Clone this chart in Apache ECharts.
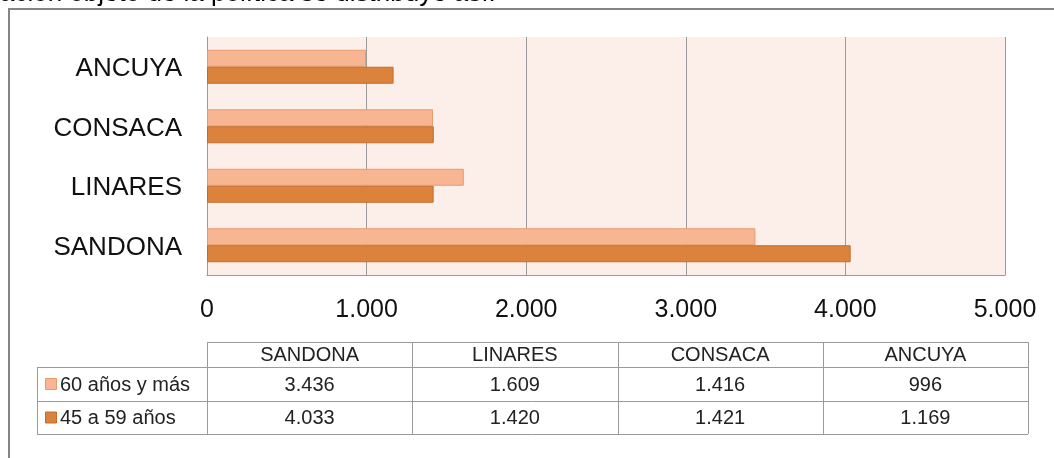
<!DOCTYPE html>
<html>
<head>
<meta charset="utf-8">
<script src="https://cdn.jsdelivr.net/npm/echarts@6/dist/echarts.min.js"></script>
<style>
    html, body { margin: 0; padding: 0; background: #fff; }
    #chart { width: 1054px; height: 458px; }
</style>
</head>
<body>
<div id="chart"></div>
<script>
// datos
const municipios = ['SANDONA', 'LINARES', 'CONSACA', 'ANCUYA'];
const mayores60 = [3436, 1609, 1416, 996];
const de45a59 = [4033, 1420, 1421, 1169];
const serieNombres = ['60 años y más', '45 a 59 años'];
const xTicks = [0, 1000, 2000, 3000, 4000, 5000];

const colores = ['#F8B592', '#DB823D'];
const bordes = ['#E49C6C', '#C46C2C'];
const FONT = 'Liberation Sans, Arial, sans-serif';

function fmt(v) {
    // separador de miles con punto
    return String(v).replace(/\B(?=(\d{3})+(?!\d))/g, '.');
}

const myChart = echarts.init(document.getElementById('chart'));

// tabla de datos debajo del grafico
const tablaX0 = 37, colX0 = 207, colW = 205.25, nCols = municipios.length;
const filasY = [342, 367, 401, 434];
const tablaX1 = colX0 + colW * nCols;
const lineColor = '#9a9a9a';
let graphic = [];

// texto cortado arriba
graphic.push({
    type: 'text', left: 0, top: -19,
    style: { text: 'ación objeto de la política se distribuye así:', font: '26px ' + FONT, fill: '#000' }
});
// borde del cuadro
graphic.push({
    type: 'polyline', shape: { points: [[9, 458], [9, 9], [1054, 9]] },
    style: { stroke: '#858585', lineWidth: 2, fill: null }
});

function hline(y, x0, x1) {
    graphic.push({ type: 'line', shape: { x1: x0, y1: y, x2: x1, y2: y }, style: { stroke: lineColor, lineWidth: 1 } });
}
function vline(x, y0, y1) {
    graphic.push({ type: 'line', shape: { x1: x, y1: y0, x2: x, y2: y1 }, style: { stroke: lineColor, lineWidth: 1 } });
}
hline(filasY[0] + 0.5, colX0, tablaX1);
hline(filasY[1] + 0.5, tablaX0, tablaX1);
hline(filasY[2] + 0.5, tablaX0, tablaX1);
hline(filasY[3] + 0.5, tablaX0, tablaX1);
vline(tablaX0 + 0.5, filasY[1], filasY[3]);
for (let i = 0; i <= nCols; i++) {
    vline(Math.round(colX0 + colW * i) + 0.5, filasY[0], filasY[3]);
}
function celda(text, cx, cy, align) {
    graphic.push({
        type: 'text', x: cx, y: cy,
        style: { text: text, font: '20px ' + FONT, fill: '#222', align: align || 'center', verticalAlign: 'middle' }
    });
}
municipios.forEach(function (m, i) {
    const cx = colX0 + colW * i + colW / 2;
    celda(m, cx, (filasY[0] + filasY[1]) / 2 + 1);
    celda(fmt(mayores60[i]), cx, (filasY[1] + filasY[2]) / 2 + 1);
    celda(fmt(de45a59[i]), cx, (filasY[2] + filasY[3]) / 2 + 1);
});
[mayores60, de45a59].forEach(function (s, k) {
    const cy = (filasY[k + 1] + filasY[k + 2]) / 2;
    graphic.push({
        type: 'rect', shape: { x: 45.5, y: cy - 5.5, width: 11, height: 11 },
        style: { fill: colores[k], stroke: bordes[k], lineWidth: 1 }
    });
    celda(serieNombres[k], 60, cy + 1, 'left');
});

const option = {
    animation: false,
    backgroundColor: '#fff',
    grid: {
        left: 207, right: 49, top: 37, bottom: 183,
        show: true, backgroundColor: '#FCEEE9', borderWidth: 0
    },
    xAxis: {
        type: 'value', min: 0, max: 5000, interval: 1000,
        axisLine: { show: true, lineStyle: { color: '#9a9a9a' } },
        axisTick: { show: false },
        splitLine: { show: true, lineStyle: { color: '#9a9a9a', width: 1 } },
        axisLabel: {
            margin: 23, color: '#111', fontSize: 25, fontFamily: FONT,
            formatter: function (v) { return xTicks.indexOf(v) >= 0 ? fmt(v) : ''; }
        }
    },
    yAxis: {
        type: 'category', data: municipios,
        axisLine: { show: true, lineStyle: { color: '#9a9a9a' } },
        axisTick: { show: false },
        axisLabel: {
            margin: 25,
            formatter: function (v) { return '{m|' + v + '}'; },
            rich: { m: { color: '#111', fontSize: 26, fontFamily: FONT, padding: [5, 0, 0, 0] } }
        }
    },
    series: [
        {
            name: serieNombres[0], type: 'bar', data: mayores60,
            barWidth: 17, barGap: '0%',
            itemStyle: { color: colores[0], borderColor: bordes[0], borderWidth: 1 }
        },
        {
            name: serieNombres[1], type: 'bar', data: de45a59,
            barWidth: 17, barGap: '0%',
            itemStyle: { color: colores[1], borderColor: bordes[1], borderWidth: 1 }
        }
    ],
    graphic: graphic
};
myChart.setOption(option);
</script>
</body>
</html>
